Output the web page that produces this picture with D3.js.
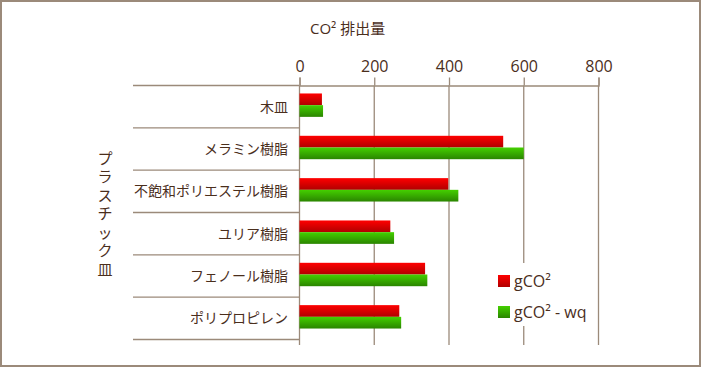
<!DOCTYPE html>
<meta charset="utf-8">
<style>
  body { margin: 0; background: #fff; }
  text { fill: #4a2e1c; }
</style>
<script src="https://d3js.org/d3.v7.min.js"></script>
<div id="chart"></div>
<script>
// data
var categories = ["木皿", "メラミン樹脂", "不飽和ポリエステル樹脂", "ユリア樹脂", "フェノール樹脂", "ポリプロピレン"];
var gco2 = [60, 545, 398, 243, 336, 267];
var gco2wq = [63, 600, 425, 253, 342, 272];
var seriesNames = ["gCO²", "gCO² - wq"];
var tickValues = [0, 200, 400, 600, 800];

var W = 701, H = 367;
var line = "#9b8a7a";
var latin = "'Open Sans', 'Noto Sans CJK JP', sans-serif";
var jp = "'Noto Sans CJK JP', sans-serif";

var svg = d3.select("#chart").append("svg")
  .attr("width", W).attr("height", H);

// outer frame
svg.append("rect")
  .attr("x", 1).attr("y", 1).attr("width", W - 2).attr("height", H - 2)
  .attr("fill", "#fff").attr("stroke", line).attr("stroke-width", 2);

var defs = svg.append("defs");
function grad(id, c1, c2) {
  var g = defs.append("linearGradient").attr("id", id)
    .attr("x1", 0).attr("y1", 0).attr("x2", 0).attr("y2", 1);
  g.append("stop").attr("offset", "0%").attr("stop-color", c1);
  g.append("stop").attr("offset", "100%").attr("stop-color", c2);
}
grad("gRed", "#ff0000", "#b00000");
grad("gGreen", "#44d000", "#2a8500");

var x = d3.scaleLinear().domain([0, 800]).range([299.5, 598.5]);
var y = d3.scaleBand().domain(categories).range([85.5, 339.5]);

var plotTop = 85.5, plotBottom = 345;

// vertical grid lines
svg.selectAll(".grid").data(tickValues).enter().append("line")
  .attr("x1", d => x(d)).attr("x2", d => x(d))
  .attr("y1", plotTop).attr("y2", plotBottom)
  .attr("stroke", line).attr("stroke-width", 1.3);

// category separators
var bounds = categories.map(c => y(c)).concat([y.range()[1]]);
svg.selectAll(".sep").data(bounds).enter().append("line")
  .attr("x1", 133).attr("x2", 299.5)
  .attr("y1", d => d).attr("y2", d => d)
  .attr("stroke", line).attr("stroke-width", 1.3);

// top axis
var ax = svg.append("g").attr("transform", "translate(0," + plotTop + ")")
  .call(d3.axisTop(x).tickValues(tickValues).tickSize(8).tickPadding(6));
ax.select(".domain").attr("stroke", line).attr("stroke-width", 1.3);
ax.selectAll(".tick line").attr("stroke", line).attr("stroke-width", 1.3);
ax.selectAll(".tick text").attr("fill", "#4a2e1c")
  .style("font-family", latin).style("font-size", "16px");

// bars
var bh = 11.7, off = -1.5;
svg.selectAll(".barR").data(categories).enter().append("rect")
  .attr("x", x(0))
  .attr("y", (d) => y(d) + y.bandwidth() / 2 + off - bh)
  .attr("width", (d, i) => x(gco2[i]) - x(0))
  .attr("height", bh)
  .attr("fill", "url(#gRed)");
svg.selectAll(".barG").data(categories).enter().append("rect")
  .attr("x", x(0))
  .attr("y", (d) => y(d) + y.bandwidth() / 2 + off)
  .attr("width", (d, i) => x(gco2wq[i]) - x(0))
  .attr("height", bh)
  .attr("fill", "url(#gGreen)");

// category labels
svg.selectAll(".cat").data(categories).enter().append("text")
  .attr("x", 288)
  .attr("y", d => y(d) + y.bandwidth() / 2 - 1)
  .attr("text-anchor", "end")
  .attr("dominant-baseline", "central")
  .style("font-family", jp).style("font-size", "14px")
  .text(d => d);

// axis title
svg.append("text")
  .attr("x", 310).attr("y", 34)
  .style("font-family", latin).style("font-size", "15px")
  .text("CO² 排出量");

// vertical title
var vt = "プラスチック皿".split("");
svg.selectAll(".vt").data(vt).enter().append("text")
  .attr("x", 105)
  .attr("y", (d, i) => 157 + i * 18.5)
  .attr("text-anchor", "middle")
  .attr("dominant-baseline", "central")
  .style("font-family", jp).style("font-size", "15px")
  .text(d => d);

// legend
svg.append("rect").attr("x", 492).attr("y", 263).attr("width", 98).attr("height", 63)
  .attr("fill", "#fff");
var lg = svg.selectAll(".lg").data(seriesNames).enter().append("g")
  .attr("transform", (d, i) => "translate(498," + (275 + i * 31) + ")");
lg.append("rect").attr("width", 12).attr("height", 12)
  .attr("fill", (d, i) => i === 0 ? "url(#gRed)" : "url(#gGreen)");
lg.append("text").attr("x", 16).attr("y", 6)
  .attr("dominant-baseline", "central")
  .style("font-family", latin).style("font-size", "16px")
  .text(d => d);
</script>
